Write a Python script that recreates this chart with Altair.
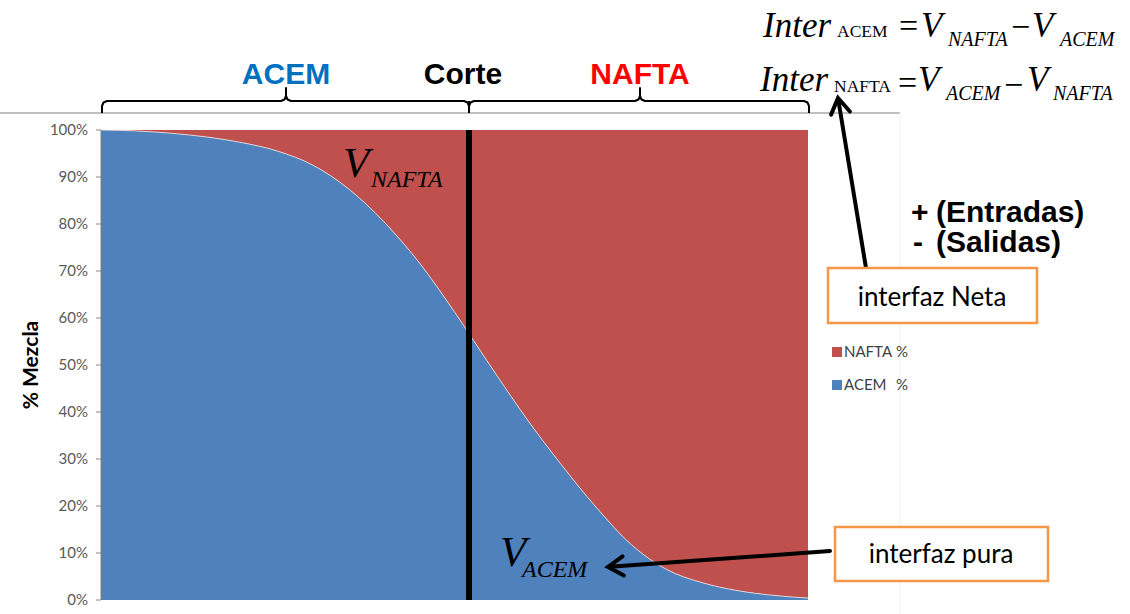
import math
import altair as alt
import pandas as pd

# ---------------- data ----------------
POS = [0, 5, 10, 15, 20, 25, 30, 35, 40, 45, 50, 55, 60, 65, 70, 75, 80, 85, 90, 95, 100]
ACEM = [100, 99.8, 99.3, 98.5, 97.3, 95.5, 92.5, 87.5, 80.5, 71.8, 61.3, 50, 39, 29, 19.8, 11.8, 6.5, 3.7, 2, 1, 0.4]
NAFTA = [0, 0.2, 0.7, 1.5, 2.7, 4.5, 7.5, 12.5, 19.5, 28.2, 38.7, 50, 61, 71, 80.2, 88.2, 93.5, 96.3, 98, 99, 99.6]
SERIES = ["ACEM", "NAFTA"]
Y_TICKS = [0, 10, 20, 30, 40, 50, 60, 70, 80, 90, 100]
Y_LABELS = ["0%", "10%", "20%", "30%", "40%", "50%", "60%", "70%", "80%", "90%", "100%"]
CUT_POS = 52.05

BLUE = "#4F81BD"
RED = "#C0504D"
ORANGE = "#F79646"

# ---------------- layout ----------------
L, T, W, H = 101, 130, 707, 470


def X(px):
    return (px - L) / W * 100


def Y(py):
    return (T + H - py) / H * 100


xs = alt.Scale(domain=[0, 100], nice=False, zero=False)
ys = alt.Scale(domain=[0, 100], nice=False, zero=False)

rows = []
for i, p in enumerate(POS):
    rows.append({"pos": p, "value": ACEM[i], "series": "ACEM", "ord": 0})
    rows.append({"pos": p, "value": NAFTA[i], "series": "NAFTA", "ord": 1})
df = pd.DataFrame(rows)

area = alt.Chart(df).mark_area(interpolate="monotone").encode(
    x=alt.X("pos:Q", scale=xs, axis=None),
    y=alt.Y("value:Q", stack="zero", scale=ys, axis=None),
    color=alt.Color("series:N", scale=alt.Scale(domain=SERIES, range=[BLUE, RED]), legend=None),
    order=alt.Order("ord:Q"),
)

boundary = alt.Chart(pd.DataFrame({"pos": POS, "value": ACEM})).mark_line(
    interpolate="monotone", color="#e8e8e8", strokeWidth=1, opacity=0.8
).encode(
    x=alt.X("pos:Q", scale=xs, axis=None),
    y=alt.Y("value:Q", scale=ys, axis=None),
)

# y axis (labels + ticks) drawn through the y scale
tick_df = pd.DataFrame({"v": Y_TICKS, "label": Y_LABELS})
y_labels = alt.Chart(tick_df).mark_text(
    font="Lato", fontSize=15, color="#595959", align="right", baseline="middle"
).encode(x=alt.value(-13), y=alt.Y("v:Q", scale=ys, axis=None), text="label:N")
y_ticks = alt.Chart(tick_df).mark_rule(color="#868686", strokeWidth=1).encode(
    x=alt.value(-5), x2=alt.value(0), y=alt.Y("v:Q", scale=ys, axis=None)
)
y_domain = alt.Chart(pd.DataFrame({"a": [0], "b": [100]})).mark_rule(color="#868686", strokeWidth=1).encode(
    x=alt.value(0), y=alt.Y("a:Q", scale=ys, axis=None), y2="b:Q"
)


def poly(points, **kw):
    d = pd.DataFrame([{"x": X(px), "y": Y(py), "o": i} for i, (px, py) in enumerate(points)])
    return alt.Chart(d).mark_line(**kw).encode(
        x=alt.X("x:Q", scale=xs, axis=None),
        y=alt.Y("y:Q", scale=ys, axis=None),
        order=alt.Order("o:Q"),
    )


def texts(items, **kw):
    d = pd.DataFrame([{"t": t, "x": X(px), "y": Y(py)} for t, px, py in items])
    kw.setdefault("baseline", "alphabetic")
    return alt.Chart(d).mark_text(**kw).encode(
        x=alt.X("x:Q", scale=xs, axis=None),
        y=alt.Y("y:Q", scale=ys, axis=None),
        text="t:N",
    )


def box(x0, y0, x1, y1, **kw):
    d = pd.DataFrame([{"x": X(x0), "x2": X(x1), "y": Y(y0), "y2": Y(y1)}])
    return alt.Chart(d).mark_rect(**kw).encode(
        x=alt.X("x:Q", scale=xs, axis=None),
        x2="x2:Q",
        y=alt.Y("y:Q", scale=ys, axis=None),
        y2="y2:Q",
    )


def arrow(tail, tip, length=18, ang=32, width=4):
    dx, dy = tail[0] - tip[0], tail[1] - tip[1]
    n = math.hypot(dx, dy)
    ux, uy = dx / n, dy / n
    arms = []
    for s in (1, -1):
        a = math.radians(ang * s)
        rx = ux * math.cos(a) - uy * math.sin(a)
        ry = ux * math.sin(a) + uy * math.cos(a)
        arms.append((tip[0] + length * rx, tip[1] + length * ry))
    shaft = poly([tail, (tip[0] + 2 * ux, tip[1] + 2 * uy)], color="black", strokeWidth=width, strokeCap="round")
    head = poly([arms[0], tip, arms[1]], color="black", strokeWidth=width, strokeCap="round", strokeJoin="miter")
    return [shaft, head]


def brace(x0, x1, xt, ytop, ybot, ytip):
    r = 5
    sgn = 1 if ytip > ytop else -1
    pts = [
        (x0, ybot), (x0, ytop + 5), (x0 + 1.5, ytop + 1.5), (x0 + r, ytop),
        (xt - r, ytop), (xt - 1.5, ytop + sgn * 1.5), (xt, ytop + sgn * 5), (xt, ytip),
        (xt, ytop + sgn * 5), (xt + 1.5, ytop + sgn * 1.5), (xt + r, ytop),
        (x1 - r, ytop), (x1 - 1.5, ytop + 1.5), (x1, ytop + 5), (x1, ybot),
    ]
    return poly(pts, color="black", strokeWidth=2, strokeJoin="round")


layers = []
# light guide lines
layers.append(poly([(0, 113), (900, 113)], color="#BFBFBF", strokeWidth=2))
layers.append(poly([(900, 113), (900, 614)], color="#EFEFEF", strokeWidth=1))
# axis
layers += [y_domain, y_ticks, y_labels]
# data
layers.append(area)
layers.append(boundary)
# cut line
layers.append(
    alt.Chart(pd.DataFrame({"x": [CUT_POS, CUT_POS], "y": [0, 100], "o": [0, 1]}))
    .mark_line(color="black", strokeWidth=6)
    .encode(x=alt.X("x:Q", scale=xs, axis=None), y=alt.Y("y:Q", scale=ys, axis=None), order="o:Q")
)
# braces
layers.append(brace(102, 469, 286, 101, 113, 88))
layers.append(brace(469, 809, 640, 101, 113, 88))
layers.append(poly([(469, 101), (469, 113)], color="black", strokeWidth=2))
# arrows
layers += arrow((866, 268), (838, 98))
layers += arrow((830, 551), (608, 567))
# boxes
layers.append(box(828, 268, 1037, 323, fill="white", stroke=ORANGE, strokeWidth=2.5))
layers.append(box(835, 527, 1048, 581, fill="white", stroke=ORANGE, strokeWidth=2.5))
# legend squares
layers.append(box(832, 347, 842, 357, fill=RED))
layers.append(box(832, 380, 842, 390, fill=BLUE))

# headings
layers.append(texts([("ACEM", 286, 84)], font="Liberation Sans", fontSize=30, fontWeight="bold", color="#0070C0", align="center"))
layers.append(texts([("Corte", 463, 84)], font="Liberation Sans", fontSize=30, fontWeight="bold", color="black", align="center"))
layers.append(texts([("NAFTA", 640, 84)], font="Liberation Sans", fontSize=30, fontWeight="bold", color="#FF0000", align="center"))

# formulas (Times italic big parts)
serif_big = [
    ("Inter", 763, 37), ("V", 921, 37), ("V", 1032, 37),
    ("Inter", 760, 91), ("V", 918, 91), ("V", 1027, 91),
]
layers.append(texts(serif_big, font="Liberation Serif", fontSize=35, fontStyle="italic", color="black", align="left"))
layers.append(texts([("V", 343, 177), ("V", 500, 566)], font="Liberation Serif", fontSize=43, fontStyle="italic", color="black", align="left"))
serif_sub = [
    ("NAFTA", 948, 46), ("ACEM", 1060, 46),
    ("ACEM", 946, 100), ("NAFTA", 1053, 100),
]
layers.append(texts(serif_sub, font="Liberation Serif", fontSize=20, fontStyle="italic", color="black", align="left"))
layers.append(texts([("NAFTA", 371, 187), ("ACEM", 522, 577)], font="Liberation Serif", fontSize=24, fontStyle="italic", color="black", align="left"))
layers.append(texts([("ACEM", 837, 37), ("NAFTA", 834, 92)], font="Liberation Serif", fontSize=17.5, color="black", align="left"))
layers.append(texts([("=", 899, 37), ("\u2212", 1011, 38), ("=", 898, 94), ("\u2212", 1004, 96)], font="Liberation Serif", fontSize=34, color="black", align="left"))

# entradas / salidas
layers.append(texts([("+", 911, 222), ("-", 913, 252), ("(Entradas)", 936, 222), ("(Salidas)", 936, 252)],
                    font="Liberation Sans", fontSize=30, fontWeight="bold", color="black", align="left"))

# box labels
layers.append(texts([("interfaz Neta", 932, 306), ("interfaz pura", 941, 563)], font="Lato", fontSize=26, color="black", align="center"))

# legend labels
layers.append(texts([("NAFTA", 844, 357), ("ACEM", 844, 390), ("%", 896, 357), ("%", 896, 390)], font="Lato", fontSize=15, color="#404040", align="left"))

# y title
layers.append(texts([("% Mezcla", 32, 365)], font="Lato", fontSize=21, fontWeight="bold", color="black", align="center", baseline="middle", angle=270))

chart = (
    alt.layer(*layers)
    .properties(
        width=W,
        height=H,
        autosize="none",
        padding={"left": L, "top": T, "right": 1130 - L - W, "bottom": 614 - T - H},
        background="white",
    )
    .configure_view(strokeWidth=0)
)

chart.save("out.html", embed_options={"renderer": "svg", "actions": False})
